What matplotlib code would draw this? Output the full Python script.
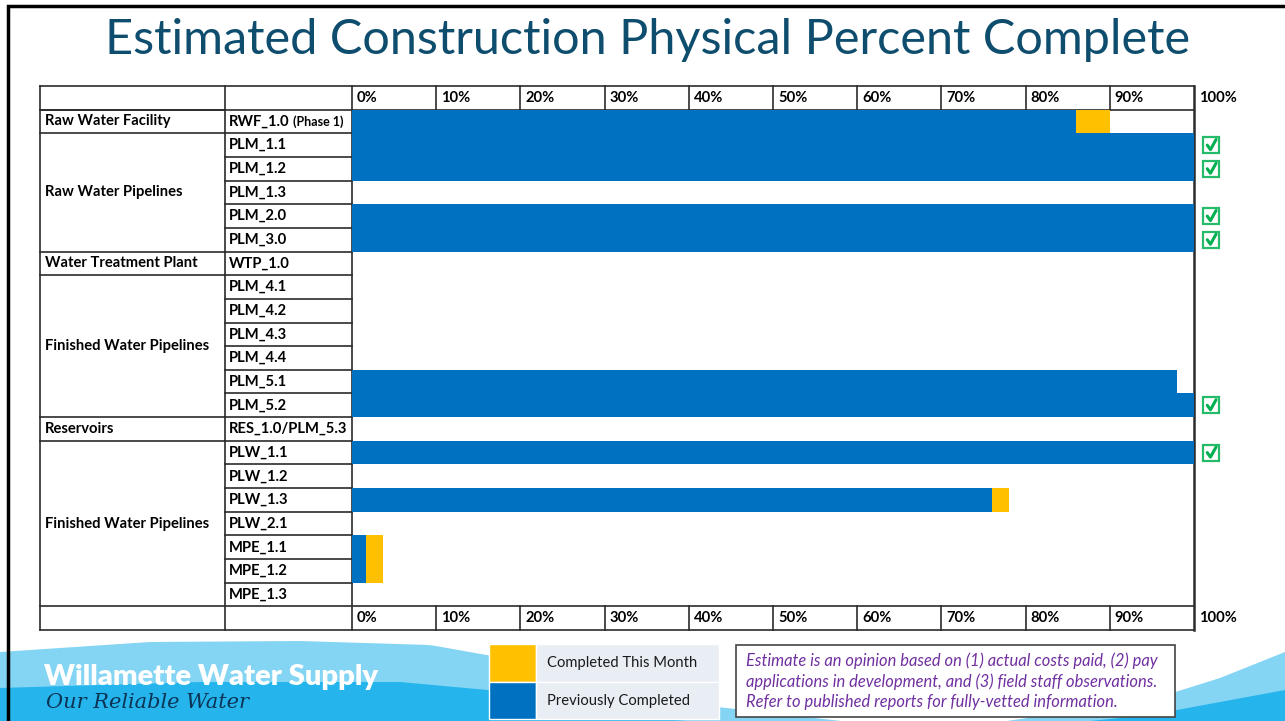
import matplotlib
matplotlib.use("Agg")
import matplotlib.pyplot as plt
from matplotlib.patches import Rectangle
import numpy as np

# ---------------- data ----------------
codes = ["RWF_1.0", "PLM_1.1", "PLM_1.2", "PLM_1.3", "PLM_2.0", "PLM_3.0",
         "WTP_1.0", "PLM_4.1", "PLM_4.2", "PLM_4.3", "PLM_4.4", "PLM_5.1",
         "PLM_5.2", "RES_1.0/PLM_5.3", "PLW_1.1", "PLW_1.2", "PLW_1.3",
         "PLW_2.1", "MPE_1.1", "MPE_1.2", "MPE_1.3"]
code_suffix = {"RWF_1.0": " (Phase 1)"}
groups = ["Raw Water Facility", "Raw Water Pipelines", "Water Treatment Plant",
          "Finished Water Pipelines", "Reservoirs", "Finished Water Pipelines"]
group_sizes = [1, 5, 1, 6, 1, 7]
previously_completed = [86, 100, 100, 0, 100, 100, 0, 0, 0, 0, 0, 98, 100, 0,
                        100, 0, 76, 0, 1.7, 1.7, 0]
completed_this_month = [4, 0, 0, 0, 0, 0, 0, 0, 0, 0, 0, 0, 0, 0, 0, 0, 2, 0,
                        2, 2, 0]
tick_values = [0, 10, 20, 30, 40, 50, 60, 70, 80, 90, 100]
tick_labels = [f"{v}%" for v in tick_values]
legend_labels = ["Completed This Month", "Previously Completed"]
note_lines = ["Estimate is an opinion based on (1) actual costs paid, (2) pay",
              "applications in development, and (3) field staff observations.",
              "Refer to published reports for fully-vetted information."]
title = "Estimated Construction Physical Percent Complete"

BLUE = "#0070C0"
YELLOW = "#FFC000"
GREEN = "#00B050"
LINE = "#2b2b2b"
FONT = "Lato"
TFS = 10.6

W, H = 1285, 721
fig = plt.figure(figsize=(W / 100, H / 100), dpi=100)
ov = fig.add_axes([0, 0, 1, 1])
ov.set_xlim(0, W)
ov.set_ylim(H, 0)
ov.axis("off")

# ---------------- footer wave ----------------
xs = np.linspace(0, W, 200)
top_light = np.interp(xs, [0, 150, 300, 430, 560, 700, 850, 1000, 1150, 1220, 1285],
                      [652, 642, 641, 645, 668, 705, 722, 722, 700, 678, 652])
top_dark = np.interp(xs, [0, 200, 400, 520, 650, 800, 1000, 1150, 1285],
                     [688, 682, 682, 693, 718, 730, 730, 715, 690])
ov.fill_between(xs, top_light, H, color="#84D4F4", zorder=1, lw=0)
ov.fill_between(xs, top_dark, H, color="#25B5EC", zorder=1.1, lw=0)
ov.text(44, 677, "Willamette Water Supply", color="white", fontsize=21,
        fontweight="heavy", family=FONT, va="center", ha="left", zorder=2)
ov.text(46, 702, "Our Reliable Water", color="#0B3556", fontsize=15,
        style="italic", family="DejaVu Serif", va="center", ha="left", zorder=2)

# ---------------- slide frame ----------------
ov.plot([8, 8, W], [H, 6, 6], color="black", lw=2.5, zorder=5,
        solid_joinstyle="miter")

# ---------------- title ----------------
ov.text(648, 40, title, color="#0E4D6E", fontsize=35, family=FONT,
        ha="center", va="center", zorder=5)

# ---------------- table geometry ----------------
n = len(codes)
tab_top, tab_bot = 86, 630
row_h = (tab_bot - tab_top) / (n + 2)
x_left, x_code, x_bar0, x_bar1 = 40, 225, 352, 1194
px_per_pct = (x_bar1 - x_bar0) / 100.0


def row_top(i):  # i = 0 header, 1..n data, n+1 footer
    return tab_top + i * row_h


# bar axes
bar_top = row_top(1)
bar_bot = row_top(n + 1)
bx = fig.add_axes([x_bar0 / W, 1 - bar_bot / H, (x_bar1 - x_bar0) / W,
                   (bar_bot - bar_top) / H])
bx.set_xlim(0, 100)
bx.set_ylim(n, 0)
bx.axis("off")
ypos = np.arange(n) + 0.5
bx.barh(ypos, previously_completed, height=1.0, color=BLUE, lw=0)
bx.barh(ypos, completed_this_month, left=previously_completed, height=1.0,
        color=YELLOW, lw=0)

# check marks for completed items
for y, p, c in zip(ypos, previously_completed, completed_this_month):
    if p + c >= 100:
        x0, w = 101.1, 16 / px_per_pct
        hh = 16 / row_h
        bx.add_patch(Rectangle((x0, y - hh / 2), w, hh, fill=False,
                               edgecolor=GREEN, lw=1.6, clip_on=False,
                               alpha=0.85))
        bx.plot([x0 + 0.25 * w, x0 + 0.45 * w, x0 + 0.8 * w],
                [y + 0.0 * hh, y + 0.28 * hh, y - 0.35 * hh],
                color=GREEN, lw=2.2, clip_on=False, solid_capstyle="round")

# table lines
lw = 1.2
ov.plot([x_left, x_bar1], [tab_top, tab_top], color=LINE, lw=lw, zorder=4)
ov.plot([x_left, x_bar1], [tab_bot, tab_bot], color=LINE, lw=lw, zorder=4)
ov.plot([x_left, x_bar1], [row_top(1), row_top(1)], color=LINE, lw=lw, zorder=4)
ov.plot([x_left, x_bar1], [row_top(n + 1), row_top(n + 1)], color=LINE, lw=lw, zorder=4)
for xv in (x_left, x_code, x_bar0):
    ov.plot([xv, xv], [tab_top, tab_bot], color=LINE, lw=lw, zorder=4)
ov.plot([x_bar1, x_bar1], [tab_top, tab_bot], color=LINE, lw=1.8, zorder=4)
for i in range(2, n + 1):
    ov.plot([x_code, x_bar0], [row_top(i), row_top(i)], color=LINE, lw=lw, zorder=4)
r = 1
for g, s in zip(groups, group_sizes):
    ov.plot([x_left, x_code], [row_top(r), row_top(r)], color=LINE, lw=lw, zorder=4)
    yc = (row_top(r) + row_top(r + s)) / 2
    ov.text(x_left + 5, yc, g, fontsize=TFS, fontweight="bold", family=FONT,
            va="center", ha="left", zorder=4)
    r += s
for i, cname in enumerate(codes):
    yc = (row_top(i + 1) + row_top(i + 2)) / 2
    t = ov.text(x_code + 4, yc, cname, fontsize=TFS, fontweight="bold",
                family=FONT, va="center", ha="left", zorder=4)
    if cname in code_suffix:
        ov.annotate(code_suffix[cname], xy=(1, 0.5), xycoords=t, va="center",
                    ha="left", fontsize=9, fontweight="bold", family=FONT,
                    zorder=4)
for row in (0, n + 1):
    yc = (row_top(row) + row_top(row + 1)) / 2
    for v, lab in zip(tick_values, tick_labels):
        xv = x_bar0 + v * px_per_pct
        if 0 < v < 100:
            ov.plot([xv, xv], [row_top(row), row_top(row + 1)], color=LINE,
                    lw=lw, zorder=4)
        ov.text(xv + 5, yc, lab, fontsize=TFS, fontweight="bold", family=FONT,
                va="center", ha="left", zorder=4)

# ---------------- legend ----------------
lg_x0, lg_sw, lg_x1 = 489, 47, 719
lg_rows = [(644, 682), (682, 719)]
for (y0, y1), col, lab in zip(lg_rows, [YELLOW, BLUE], legend_labels):
    ov.add_patch(Rectangle((lg_x0, y0), lg_sw, y1 - y0, facecolor=col,
                           edgecolor="white", lw=1, zorder=3))
    ov.add_patch(Rectangle((lg_x0 + lg_sw, y0), lg_x1 - lg_x0 - lg_sw, y1 - y0,
                           facecolor="#E9EDF4", edgecolor="white", lw=1, zorder=3))
    ov.text(lg_x0 + lg_sw + 11, (y0 + y1) / 2, lab, fontsize=10.6, family=FONT,
            va="center", ha="left", zorder=4, color="#1a1a1a")

# ---------------- note box ----------------
ov.add_patch(Rectangle((736, 645), 439, 72, facecolor="white",
                       edgecolor="#444444", lw=1.2, zorder=3))
for k, line in enumerate(note_lines):
    ov.text(746, 661 + k * 20.5, line, fontsize=11.9, style="italic",
            family=FONT, color="#7030A0", va="center", ha="left", zorder=4)

fig.savefig("out.png", dpi=100)
